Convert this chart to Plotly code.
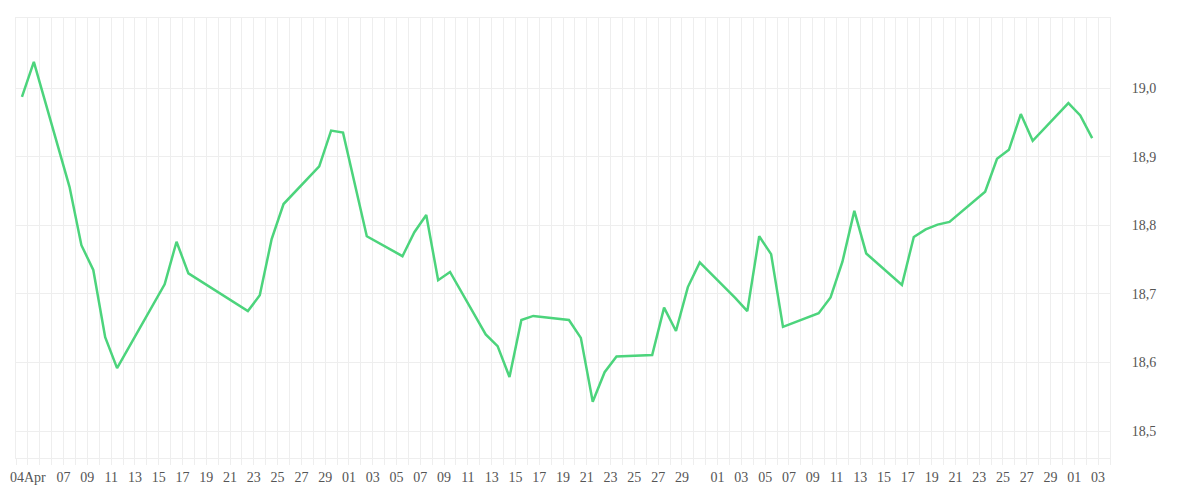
import plotly.graph_objects as go
import pandas as pd

days = [-1, 0, 3, 4, 5, 6, 7, 10, 11, 12, 13, 18, 19, 20, 21, 24, 25, 26, 28, 31,
        32, 33, 34, 35, 38, 39, 40, 41, 42, 45, 46, 47, 48, 49, 52, 53, 54, 55, 56,
        59, 60, 61, 62, 63, 66, 67, 68, 69, 70, 73, 74, 75, 76, 77, 80, 81, 82, 83,
        84, 87, 88, 89]
prices = [18.987, 19.038, 18.856, 18.771, 18.735, 18.637, 18.592, 18.684, 18.714,
          18.776, 18.730, 18.675, 18.698, 18.780, 18.831, 18.886, 18.938, 18.935,
          18.784, 18.755, 18.790, 18.815, 18.720, 18.732, 18.641, 18.624, 18.579,
          18.662, 18.668, 18.662, 18.636, 18.543, 18.586, 18.609, 18.611, 18.680,
          18.646, 18.710, 18.746, 18.694, 18.675, 18.784, 18.758, 18.652, 18.672,
          18.695, 18.747, 18.821, 18.759, 18.713, 18.783, 18.794, 18.801, 18.805,
          18.849, 18.897, 18.910, 18.962, 18.923, 18.978, 18.960, 18.927]

start = pd.Timestamp("2022-04-04")
x = [start + pd.Timedelta(days=d, hours=12) for d in days]

# one grid line per day, labels on odd days (skip 31st and Apr 5)
tick_dates = pd.date_range("2022-04-03", "2022-07-04", freq="D")
tick_text = []
for t in tick_dates:
    if t == start:
        tick_text.append("04Apr")
    elif t.day % 2 == 1 and t.day != 31 and t >= pd.Timestamp("2022-04-07"):
        tick_text.append(t.strftime("%d"))
    else:
        tick_text.append("")

fig = go.Figure()
fig.add_trace(go.Scatter(x=x, y=prices, mode="lines",
                         line=dict(color="#4cd47c", width=2.5)))

fig.update_layout(
    width=1200, height=500,
    margin=dict(l=8, r=98, t=10, b=50),
    paper_bgcolor="white", plot_bgcolor="white",
    showlegend=False,
    font=dict(family="Liberation Serif", size=14, color="#555"),
    xaxis=dict(
        range=[tick_dates[0], tick_dates[-1]],
        tickvals=list(tick_dates), ticktext=tick_text,
        showgrid=True, gridcolor="#eeeeee", gridwidth=1,
        ticks="outside", ticklen=6, tickcolor="#eeeeee",
        showline=True, linecolor="#eeeeee", mirror=True, zeroline=False,
        automargin=False,
    ),
    yaxis=dict(
        side="right", range=[18.461, 19.102],
        tickvals=[18.5, 18.6, 18.7, 18.8, 18.9, 19.0],
        ticktext=["18,5", "18,6", "18,7", "18,8", "18,9", "19,0"],
        showgrid=True, gridcolor="#eeeeee", gridwidth=1,
        showline=True, linecolor="#eeeeee", mirror=True, zeroline=False,
        ticklabelstandoff=18, automargin=False,
    ),
)

fig.write_html("out.html")
